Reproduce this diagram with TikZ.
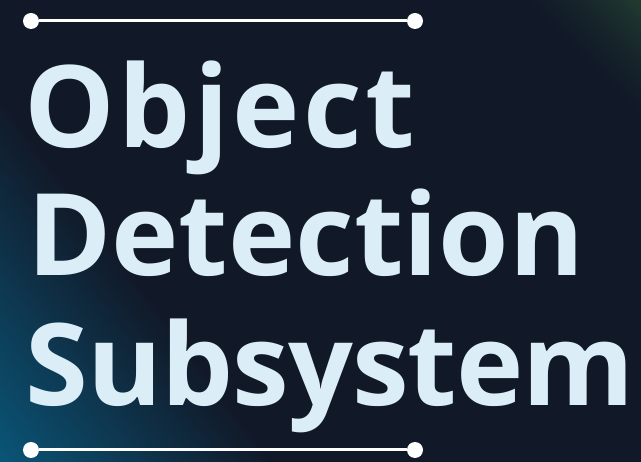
\documentclass[tikz,border=0pt]{standalone}
\usepackage{fontspec}
\setmainfont{Open Sans}
\definecolor{bgnavy}{HTML}{111827}
\definecolor{glowteal}{HTML}{0A5678}
\definecolor{glowgreen}{HTML}{213C31}
\definecolor{titleblue}{HTML}{DBEEF8}
\tikzset{
  rule/.style={draw=white, line width=3pt},
  ruledot/.style={circle, fill=white, inner sep=0pt, minimum size=16pt},
  title/.style={anchor=base west, inner sep=0pt, text=titleblue,
    font=\fontsize{114}{114}\selectfont\bfseries}
}
\begin{document}
\begin{tikzpicture}[x=1pt, y=-1pt]
  % backdrop
  \fill[bgnavy] (0,0) rectangle (641,462);
  \begin{scope}
    \clip (0,0) rectangle (641,462);
    % teal glow from the lower left corner: nested half-planes, stronger towards the corner
    \foreach \a in {220,218,...,0} {
      \pgfmathtruncatemacro\p{100*(1-\a/224)}
      \fill[glowteal!\p!bgnavy]
        ({0.8*\a+480},{1102-0.6*\a}) -- ({0.8*\a-480},{-178-0.6*\a})
        -- ({0.8*\a-1280},{422-0.6*\a}) -- ({0.8*\a-320},{1702-0.6*\a}) -- cycle;
    }
    % green glow from the upper right corner
    \foreach \a in {84,82,...,0} {
      \pgfmathtruncatemacro\p{100*(1-\a/86)^1.3}
      \fill[glowgreen!\p!bgnavy]
        ({853-0.7071*\a},{212+0.7071*\a}) -- ({429-0.7071*\a},{0.7071*\a-212})
        -- ({641-0.7071*\a},{0.7071*\a-424}) -- ({1065-0.7071*\a},{0.7071*\a}) -- cycle;
    }
  \end{scope}
  \useasboundingbox (0,0) rectangle (641,462);

  % upper rule
  \node[ruledot] (tl) at (31,21) {};
  \node[ruledot] (tr) at (415,21) {};
  \draw[rule] (tl) -- (tr);

  % title
  \node[title] (w1) at (24,148) {\addfontfeature{LetterSpace=3.2}Object};
  \node[title] (w2) at (27,276) {Detection};
  \node[title] (w3) at (25,406) {\addfontfeature{LetterSpace=-0.8}Subsystem};

  % lower rule
  \node[ruledot] (bl) at (31,450) {};
  \node[ruledot] (br) at (415,450) {};
  \draw[rule] (bl) -- (br);
\end{tikzpicture}
\end{document}
